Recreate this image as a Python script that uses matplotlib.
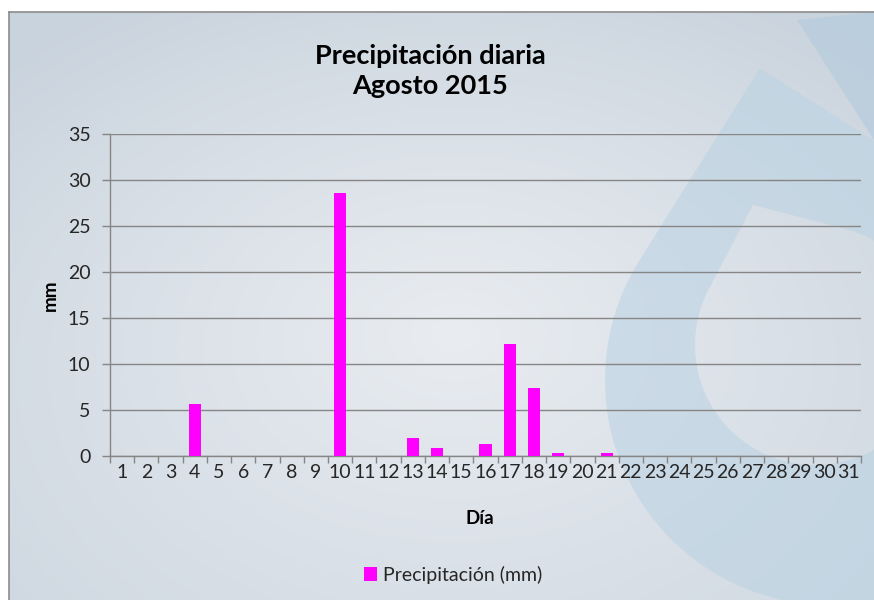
import numpy as np
import matplotlib
matplotlib.use("Agg")
import matplotlib.pyplot as plt
from matplotlib.path import Path
from matplotlib.patches import PathPatch, Rectangle, Polygon

# ---- data ----
days = [str(d) for d in range(1, 32)]
precip = [0, 0, 0, 5.6, 0, 0, 0, 0, 0, 28.6,
          0, 0, 1.9, 0.8, 0, 1.3, 12.2, 7.4, 0.25, 0,
          0.25, 0, 0, 0, 0, 0, 0, 0, 0, 0, 0]
y_ticks = [0, 5, 10, 15, 20, 25, 30, 35]
title_text = "Precipitación diaria\nAgosto 2015"
xlabel_text = "Día"
ylabel_text = "mm"
legend_text = "Precipitación (mm)"

plt.rcParams['font.family'] = ['Lato', 'DejaVu Sans']

W, H = 874, 600
fig = plt.figure(figsize=(W / 100, H / 100), dpi=100)
fig.patch.set_facecolor('white')

# ---- background decoration (pixel coordinates) ----
bg = fig.add_axes([0, 0, 1, 1], zorder=-10)
bg.set_xlim(0, W)
bg.set_ylim(H, 0)
bg.axis('off')

yy, xx = np.mgrid[0:H, 0:W]
c_tl = np.array([0xc9, 0xd3, 0xdd]) / 255
c_mid = np.array([0xea, 0xed, 0xf1]) / 255
c_bot = np.array([0xe4, 0xe9, 0xef]) / 255
d = np.sqrt(((xx - 450) / 600.0) ** 2 + ((yy - 330) / 420.0) ** 2)
d = np.clip(d, 0, 1)[..., None]
img = c_mid * (1 - d) + c_tl * d
fy = (yy / H)[..., None]
img = img * (1 - 0.25 * fy) + c_bot * 0.25 * fy
bg.imshow(img, extent=(9, W, H, 12), zorder=0, aspect='auto')

def drop_path(apex, center, r, n=120):
    ax_, ay_ = apex
    cx, cy = center
    dx, dy = ax_ - cx, ay_ - cy
    dist = np.hypot(dx, dy)
    base = np.arctan2(dy, dx)
    off = np.arccos(min(r / dist, 1.0))
    a1, a2 = base + off, base - off + 2 * np.pi
    th = np.linspace(a1, a2, n)
    pts = [(ax_, ay_)] + [(cx + r * np.cos(t), cy + r * np.sin(t)) for t in th]
    return np.array(pts)

outer = drop_path((760, 68), (830, 380), 225)
inner = drop_path((753, 205), (815, 345), 120)[::-1]
verts = np.vstack([outer, outer[:1], inner, inner[:1]])
codes = ([Path.MOVETO] + [Path.LINETO] * (len(outer) - 1) + [Path.CLOSEPOLY] +
         [Path.MOVETO] + [Path.LINETO] * (len(inner) - 1) + [Path.CLOSEPOLY])
clip_rect = Rectangle((9, 12), W - 9, H - 12, transform=bg.transData, visible=False)
bg.add_patch(clip_rect)
drop = PathPatch(Path(verts, codes), facecolor='#bcd3e3', edgecolor='none', alpha=0.6, zorder=1)
bg.add_patch(drop)
drop.set_clip_path(clip_rect)
band2 = Polygon([(797, 20), (874, 12), (874, 140)], closed=True,
                facecolor='#b3cbdd', edgecolor='none', alpha=0.6, zorder=1)
bg.add_patch(band2)
band2.set_clip_path(clip_rect)
bg.plot([9, W], [12, 12], color='#8c8c8c', lw=1.2, zorder=2)
bg.plot([9, 9], [12, H], color='#8c8c8c', lw=1.2, zorder=2)

# ---- chart ----
ax = fig.add_axes([110 / W, 1 - 455.7 / H, (861 - 110) / W, (455.7 - 134) / H])
ax.patch.set_alpha(0)
x = np.arange(len(days))
ax.bar(x, precip, width=0.5, color='#ff00ff', zorder=3, label=legend_text)
ax.set_xlim(-0.5, len(days) - 0.5)
ax.set_ylim(0, 35)
ax.set_yticks(y_ticks)
ax.set_xticks(x)
ax.set_xticklabels(days)
ax.set_xticks(np.arange(-0.5, len(days), 1), minor=True)
ax.tick_params(axis='x', which='major', length=0, labelsize=14, pad=6, colors='#262626')
ax.tick_params(axis='x', which='minor', length=5, color='#868686', width=1)
ax.tick_params(axis='y', length=6, color='#868686', width=1, labelsize=14, pad=8,
               labelcolor='#262626')
ax.grid(axis='y', color='#868686', lw=1, zorder=0)
for s in ['top', 'right']:
    ax.spines[s].set_visible(False)
for s in ['left', 'bottom']:
    ax.spines[s].set_color('#868686')
    ax.spines[s].set_linewidth(1)

fig.text(430 / W, 1 - 71 / H, title_text, ha='center', va='center',
         fontsize=19.5, fontweight='bold', linespacing=1.3, color='black')
fig.text(480 / W, 1 - 518 / H, xlabel_text, ha='center', va='center',
         fontsize=13.5, fontweight='bold', color='black')
fig.text(50 / W, 1 - 295 / H, ylabel_text, ha='center', va='center', rotation=90,
         fontsize=13.5, fontweight='bold', color='black')

h, l = ax.get_legend_handles_labels()
fig.legend(h, l, loc='center', bbox_to_anchor=(453 / W, 1 - 575 / H), frameon=False,
           fontsize=14, handlelength=0.7, handleheight=0.7, handletextpad=0.3,
           labelcolor='#262626')

fig.savefig('out.png', dpi=100)
